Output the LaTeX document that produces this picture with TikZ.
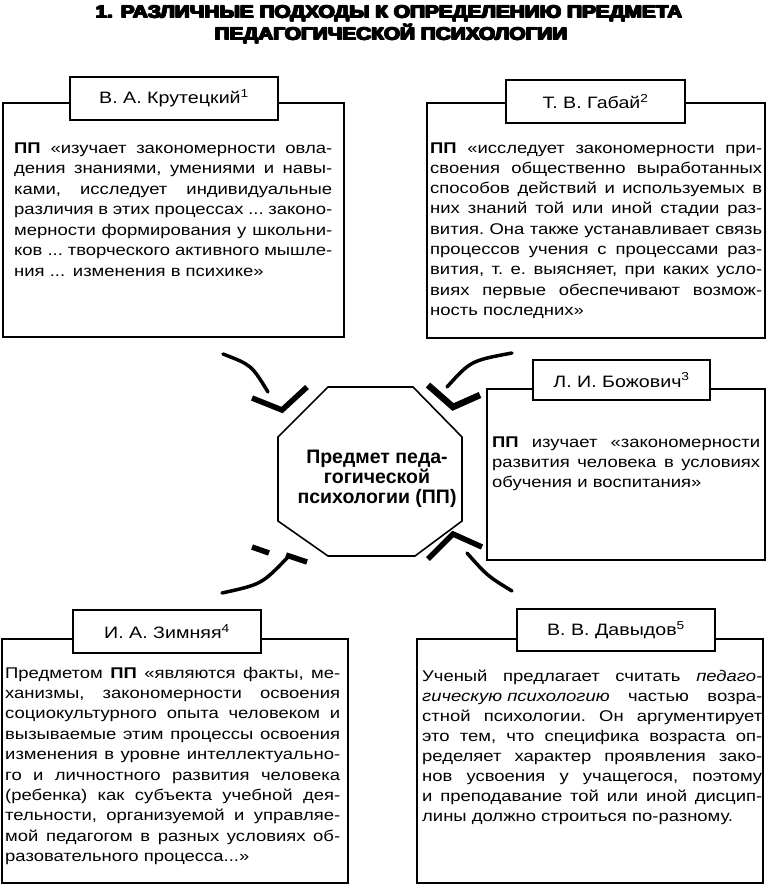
\documentclass[tikz,border=0pt]{standalone}
\usepackage{fontspec}
\setmainfont{Liberation Sans}[FakeStretch=1.19]
\newfontfamily\titlefont{Liberation Sans}
\newfontfamily\ctrfont{Liberation Sans}
\usepackage{graphicx}
\newlength\tlw
\def\jlx#1 #2\jlend{#1\if\relax\detokenize{#2}\relax\else\hskip 0.25em plus 1fill minus 0.1em\relax\jlx#2\jlend\fi}
\newcommand\jl[1]{\hbox to\hsize{\jlx#1 \jlend}\par}
\newcommand\heavy[1]{\leavevmode\rlap{#1}\rlap{\kern0.6pt#1}\rlap{\kern1.2pt#1}\rlap{\raisebox{0.6pt}{#1}}\rlap{\raisebox{0.6pt}{\kern1.2pt#1}}\rlap{\raisebox{-0.4pt}{\kern0.6pt#1}}\kern1.2pt#1}
\newcommand\ttfnt{\titlefont\bfseries\fontsize{17.5}{20}\selectfont}
\begin{document}
\settowidth\tlw{\ttfnt\heavy{1. РАЗЛИЧНЫЕ ПОДХОДЫ К ОПРЕДЕЛЕНИЮ ПРЕДМЕТА}}%
\pgfmathsetmacro\tsx{588/\tlw}%
\begin{tikzpicture}[x=1pt,y=-1pt,
  box/.style={draw, line width=1.8pt, fill=white, inner sep=0pt},
  tab/.style={draw, line width=1.8pt, fill=white, inner sep=0pt, font=\fontsize{16.5}{19}\selectfont},
  body/.style={anchor=base west, inner sep=0pt},
  shaft/.style={line width=3.5pt, line cap=round},
  arm/.style={line width=5.5pt, line cap=butt, line join=miter}]

\useasboundingbox (0,0) rectangle (768,894);

% title
\node[anchor=base, inner sep=0pt] (title1) at (389,18.5) {\scalebox{\tsx}[1]{\ttfnt\heavy{1. РАЗЛИЧНЫЕ ПОДХОДЫ К ОПРЕДЕЛЕНИЮ ПРЕДМЕТА}}};
\node[anchor=base, inner sep=0pt] (title2) at (391,40.5) {\scalebox{\tsx}[1]{\ttfnt\heavy{ПЕДАГОГИЧЕСКОЙ ПСИХОЛОГИИ}}};

% boxes
\node[box, minimum width=341pt, minimum height=234pt] (kbox) at (173.5,220) {};
\node[tab, minimum width=208pt, minimum height=43pt] (ktab) at (174,98.5) {В. А. Крутецкий\textsuperscript{1}};

\node[box, minimum width=338pt, minimum height=235pt] (gbox) at (596,220.5) {};
\node[tab, minimum width=179pt, minimum height=43pt] (gtab) at (595.5,101.5) {Т. В. Габай\textsuperscript{2}};

\node[box, minimum width=278pt, minimum height=171pt] (bbox) at (626,474.5) {};
\node[tab, minimum width=177pt, minimum height=40pt] (btab) at (621.5,380) {Л. И. Божович\textsuperscript{3}};

\node[box, minimum width=346pt, minimum height=244pt] (zbox) at (175,761) {};
\node[tab, minimum width=188pt, minimum height=43pt] (ztab) at (167,631.5) {И. А. Зимняя\textsuperscript{4}};

\node[box, minimum width=346pt, minimum height=244pt] (dbox) at (590,761) {};
\node[tab, minimum width=198pt, minimum height=42pt] (dtab) at (616,630) {В. В. Давыдов\textsuperscript{5}};

% texts
\node[body, text width=318pt, font=\fontsize{15.5}{20.5}\selectfont] (ktext) at (14,153) {%
\jl{\textbf{ПП} «изучает закономерности овла-}%
\jl{дения знаниями, умениями и навы-}%
\jl{ками, исследует индивидуальные}%
\jl{различия в этих процессах ... законо-}%
\jl{мерности формирования у школьни-}%
\jl{ков ... творческого активного мышле-}%
\noindent ния ... изменения в психике»};

\node[body, text width=332pt, font=\fontsize{15.5}{20.3}\selectfont] (gtext) at (430,153) {%
\jl{\textbf{ПП} «исследует закономерности при-}%
\jl{своения общественно выработанных}%
\jl{способов действий и используемых в}%
\jl{них знаний той или иной стадии раз-}%
\jl{вития. Она также устанавливает связь}%
\jl{процессов учения с процессами раз-}%
\jl{вития, т. е. выясняет, при каких усло-}%
\jl{виях первые обеспечивают возмож-}%
\noindent ность последних»};

\node[body, text width=268pt, font=\fontsize{15.5}{20}\selectfont] (btext) at (492,447) {%
\jl{\textbf{ПП} изучает «закономерности}%
\jl{развития человека в условиях}%
\noindent обучения и воспитания»};

\node[body, text width=335pt, font=\fontsize{15.5}{20.4}\selectfont] (ztext) at (5,678) {%
\jl{Предметом \textbf{ПП} «являются факты, ме-}%
\jl{ханизмы, закономерности освоения}%
\jl{социокультурного опыта человеком и}%
\jl{вызываемые этим процессы освоения}%
\jl{изменения в уровне интеллектуально-}%
\jl{го и личностного развития человека}%
\jl{(ребенка) как субъекта учебной дея-}%
\jl{тельности, организуемой и управляе-}%
\jl{мой педагогом в разных условиях об-}%
\noindent разовательного процесса...»};

\node[body, text width=340pt, font=\fontsize{15.5}{20}\selectfont] (dtext) at (422,681) {%
\jl{Ученый предлагает считать \textit{педаго-}}%
\jl{\textit{гическую психологию} частью возра-}%
\jl{стной психологии. Он аргументирует}%
\jl{это тем, что специфика возраста оп-}%
\jl{ределяет характер проявления зако-}%
\jl{нов усвоения у учащегося, поэтому}%
\jl{и преподавание той или иной дисцип-}%
\noindent лины должно строиться по-разному.};

% octagon
\coordinate (o1) at (328,387);
\coordinate (o2) at (413,387);
\coordinate (o3) at (462,437);
\coordinate (o4) at (462,521);
\coordinate (o5) at (415,556);
\coordinate (o6) at (328,556);
\coordinate (o7) at (278,521);
\coordinate (o8) at (278,437);
\draw[line width=1.6pt, fill=white] (o1)--(o2)--(o3)--(o4)--(o5)--(o6)--(o7)--(o8)--cycle;
\node[align=center, inner sep=0pt, font=\ctrfont\fontsize{19.5}{19.6}\selectfont\bfseries, anchor=base] (center) at (377,503)
  {Предмет педа-\\гогической\\психологии (ПП)};

% arrows
\coordinate (a1s) at (223,354); \coordinate (a1e) at (268,392);
\draw[shaft] (a1s) .. controls (251.5,365) .. (a1e);
\coordinate (h1a) at (252,398); \coordinate (h1t) at (282,410); \coordinate (h1b) at (307,387);
\draw[arm] (h1a) -- (h1t) -- (h1b);

\coordinate (a2s) at (512,353); \coordinate (a2e) at (447,387);
\draw[shaft] (a2s) .. controls (470.8,360.7) .. (a2e);
\coordinate (h2a) at (428,385); \coordinate (h2t) at (453,407); \coordinate (h2b) at (480,395);
\draw[arm, line width=6.5pt] (h2a) -- (h2t) -- (h2b);

\coordinate (a3s) at (222,593); \coordinate (a3e) at (288,557);
\draw[shaft] (a3s) .. controls (261.7,584.3) .. (a3e);
\coordinate (h3a) at (252,547); \coordinate (h3b) at (269,553);
\coordinate (h3c) at (286,555); \coordinate (h3d) at (307,562);
\draw[arm] (h3a) -- (h3b);
\draw[arm] (h3c) -- (h3d);

\coordinate (a4s) at (512,591); \coordinate (a4e) at (467,553);
\draw[shaft] (a4s) .. controls (487.5,576) .. (a4e);
\coordinate (h4a) at (428,559); \coordinate (h4t) at (453,534); \coordinate (h4b) at (482,547);
\draw[arm] (h4a) -- (h4t) -- (h4b);

\end{tikzpicture}
\end{document}
